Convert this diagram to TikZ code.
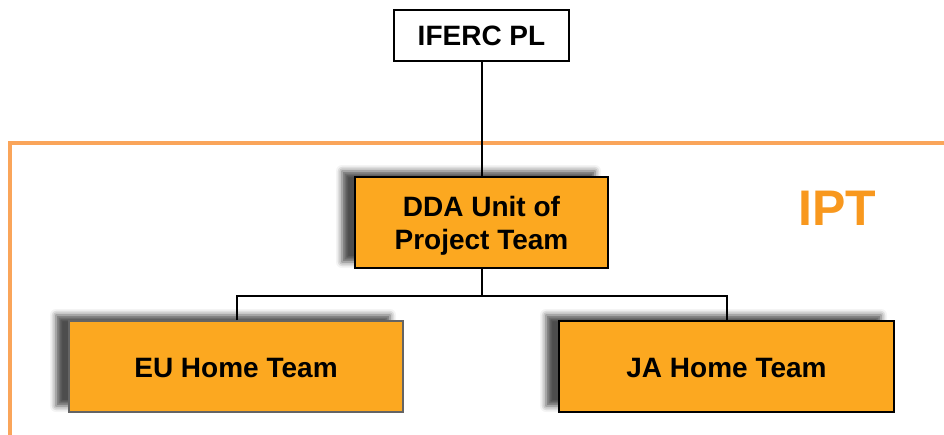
\documentclass[tikz,border=0pt]{standalone}
\usepackage{fontspec}
\setmainfont{Liberation Sans}
\usetikzlibrary{shadows.blur}
\definecolor{boxfill}{RGB}{252,168,32}
\definecolor{framecol}{RGB}{250,165,90}
\definecolor{iptcol}{RGB}{248,152,30}
\definecolor{eubord}{RGB}{100,100,100}
\tikzset{
  orgbox/.style={draw=black, line width=2pt, fill=boxfill, inner sep=0pt,
    font=\fontsize{28}{33}\selectfont\bfseries, align=center},
  shad/.style={blur shadow={shadow xshift=-13pt, shadow yshift=6pt,
    shadow blur radius=6pt, shadow opacity=70}},
  conn/.style={draw=black, line width=2pt}
}
\begin{document}
\begin{tikzpicture}[x=1pt,y=-1pt]
\useasboundingbox (0,0) rectangle (944,434);
\begin{scope}
\clip (0,0) rectangle (944,434);
\draw[framecol, line width=3.5pt] (10,440) -- (10,143) -- (950,143);
\end{scope}
\node[orgbox, fill=white, minimum width=175pt, minimum height=51pt] (pl) at (481.5,35.5) {IFERC PL};
\node[orgbox, shad, minimum width=253pt, minimum height=91pt] (dda) at (481.5,222.5) {\rule{0pt}{27pt}DDA Unit of\\Project Team};
\node[orgbox, shad, draw=eubord, minimum width=334pt, minimum height=91pt] (eu) at (236,366.5) {\rule{0pt}{22pt}EU Home Team};
\node[orgbox, shad, minimum width=335pt, minimum height=91pt] (ja) at (726.5,366.5) {\rule{0pt}{22pt}JA Home Team};
\coordinate (j) at (481.5,296);
\draw[conn] (pl.south) -- (dda.north);
\draw[conn] (dda.south) -- (j);
\draw[conn] (eu.north -| 237,0) |- (j) -| (ja.north);
\node[font=\fontsize{50}{50}\selectfont\bfseries, text=iptcol] (ipt) at (837,208) {IPT};
\end{tikzpicture}
\end{document}
